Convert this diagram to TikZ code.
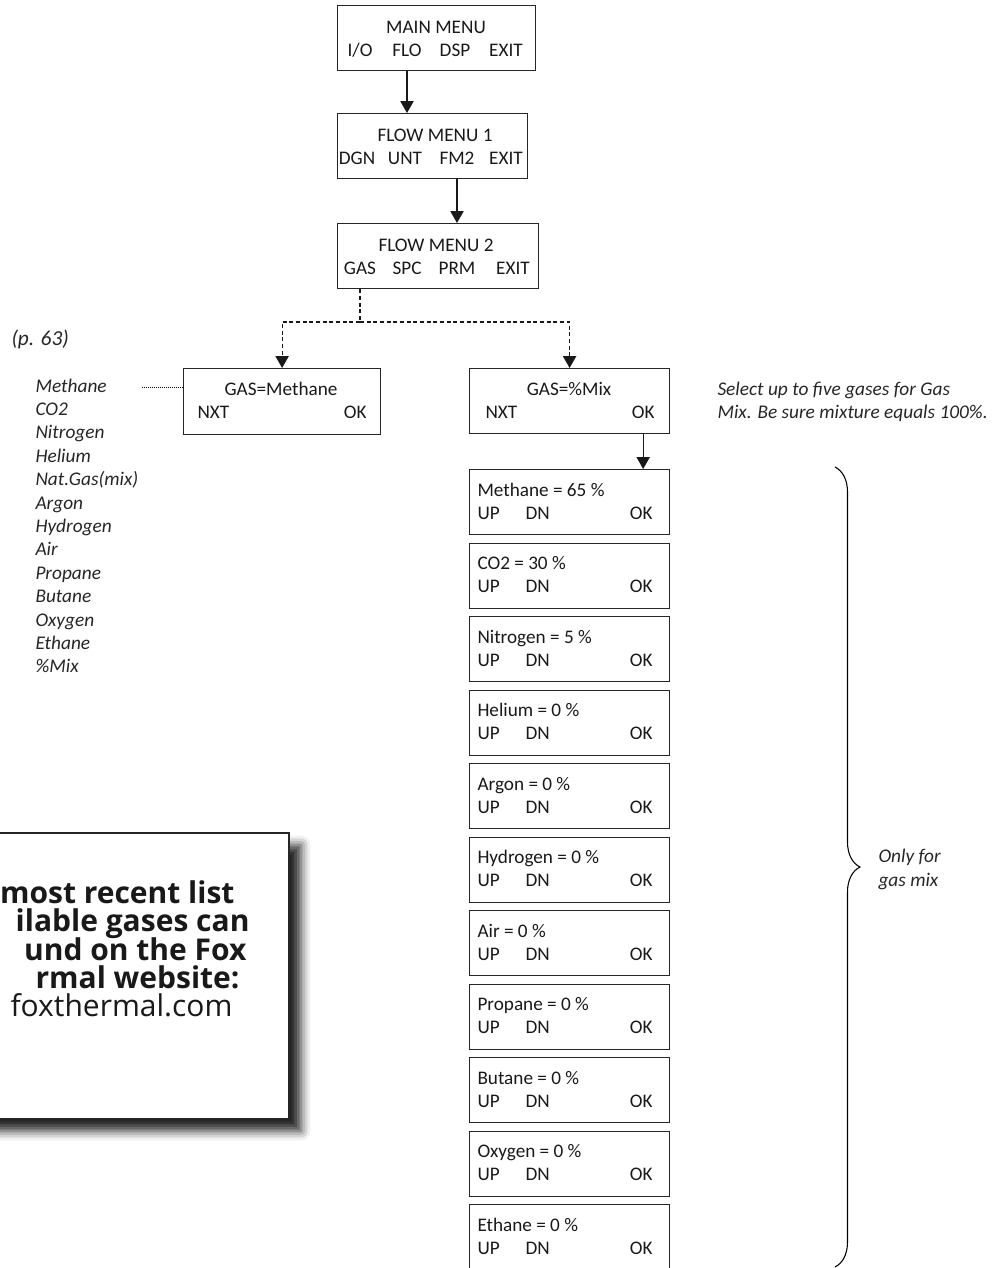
\documentclass[tikz,border=0pt]{standalone}
\usepackage{fontspec}
\setmainfont{Carlito}
\newfontfamily\infofont{Open Sans}
\usetikzlibrary{arrows.meta,decorations.pathreplacing,shadows.blur}

\tikzset{every picture/.style={line width=0.75pt}}
\tikzset{
  menubox/.style={draw=black!85, line width=0.9pt, inner sep=0pt, anchor=north west, minimum height=48.75pt},
  boxtxt/.style={font=\fontsize{14.4}{17}\selectfont, text=black!90, inner sep=0pt, anchor=base},
  notetxt/.style={font=\fontsize{14.5}{17}\selectfont\itshape, text=black!85, inner sep=0pt, anchor=base west},
  infotxt/.style={font=\infofont\fontsize{22.5}{27}\selectfont\bfseries, text=black!90, inner sep=0pt, anchor=base east},
  arr/.style={-{Triangle[width=10pt,length=9pt]}, line width=0.9pt, black!90},
  dashln/.style={line width=0.9pt, black!90, dash pattern=on 3pt off 2pt},
  dasharr/.style={arr, dash pattern=on 3pt off 2pt},
}

\begin{document}
\begin{tikzpicture}[x=0.75pt,y=0.75pt,yscale=-1,xscale=1]
	\useasboundingbox (0,0) rectangle (993,1268);

	%Shape: Rectangle (main menu)
	\node[menubox, minimum width=148.5pt] (mainmenu) at (337,5) {};
	\node[boxtxt] (mmtitle) at (436,33) {MAIN MENU};
	\node[boxtxt] (io) at (360,56) {I/O};
	\node[boxtxt] (flo) at (407,56) {FLO};
	\node[boxtxt] (dsp) at (455,56) {DSP};
	\node[boxtxt] (mmexit) at (506,56) {EXIT};

	%Shape: Rectangle (flow menu 1)
	\node[menubox, minimum width=142.5pt] (fmone) at (337,113) {};
	\node[boxtxt] (fmonetitle) at (435,141) {FLOW MENU 1};
	\node[boxtxt] (dgn) at (357,164) {DGN};
	\node[boxtxt] (unt) at (405,164) {UNT};
	\node[boxtxt] (fmtwokey) at (457,164) {FM2};
	\node[boxtxt] (fmoneexit) at (506,164) {EXIT};

	%Shape: Rectangle (flow menu 2)
	\node[menubox, minimum width=150.75pt] (fmtwo) at (337,223) {};
	\node[boxtxt] (fmtwotitle) at (436,251) {FLOW MENU 2};
	\node[boxtxt] (gas) at (360,274) {GAS};
	\node[boxtxt] (spc) at (407,274) {SPC};
	\node[boxtxt] (prm) at (457,274) {PRM};
	\node[boxtxt] (fmtwoexit) at (513,274) {EXIT};

	%Shape: Rectangle (gas select)
	\node[menubox, minimum width=147.75pt, minimum height=49.5pt] (gasmeth) at (183,368) {};
	\node[boxtxt] (methtitle) at (281,395) {GAS=Methane};
	\node[boxtxt, anchor=base west] (methnxt) at (197,418) {NXT};
	\node[boxtxt, anchor=base east] (methok) at (367,418) {OK};

	\node[menubox, minimum width=150pt] (gasmix) at (469,368) {};
	\node[boxtxt] (mixtitle) at (569,395) {GAS=\%Mix};
	\node[boxtxt, anchor=base west] (mixnxt) at (485,418) {NXT};
	\node[boxtxt, anchor=base east] (mixok) at (655,418) {OK};

	% Connectors
	\draw[arr] (flo |- mainmenu.south) -- (flo |- fmone.north);
	\draw[arr] (fmtwokey |- fmone.south) -- (fmtwokey |- fmtwo.north);
	\coordinate (split) at (360,322);
	\draw[dashln] (gas |- fmtwo.south) -- (split);
	\draw[dasharr] (split) -| (gasmeth.north);
	\draw[dasharr] (split) -| (gasmix.north);

	% Text Node
	\node[notetxt, font=\fontsize{16}{19}\selectfont\itshape] (pageref) at (11,345) {(p. 63)};
	\foreach \gasname [count=\i] in {Methane,CO2,Nitrogen,Helium,Nat.Gas(mix),Argon,Hydrogen,Air,Propane,Butane,Oxygen,Ethane,\%Mix}
		\node[notetxt] (opt\i) at (35,{392+23.4*(\i-1)}) {\gasname};
	\coordinate (lead) at (142,387);
	\draw[densely dotted, line width=0.5pt] (lead) -- (lead -| gasmeth.west);

	% Text Node
	\node[notetxt] (selnote) at (717,395) {Select up to five gases for Gas};
	\node[notetxt] (selnotetwo) at (717,418) {Mix. Be sure mixture equals 100\%.};

	% mix percentage boxes
	\foreach \gasname/\pct [count=\i from 0] in {Methane/65,CO2/30,Nitrogen/5,Helium/0,Argon/0,Hydrogen/0,Air/0,Propane/0,Butane/0,Oxygen/0,Ethane/0}{
		\pgfmathsetmacro\gtop{469+73.5*\i}
		\node[menubox, minimum width=150pt] (gas\i) at (469,\gtop) {};
		\node[boxtxt, anchor=base west] (gastxt\i) at (477,{\gtop+27}) {\gasname{} = \pct{} \%};
		\node[boxtxt, anchor=base west] (gasup\i) at (477,{\gtop+50}) {UP};
		\node[boxtxt, anchor=base west] (gasdn\i) at (525,{\gtop+50}) {DN};
		\node[boxtxt, anchor=base east] (gasok\i) at (653,{\gtop+50}) {OK};
	}
	\draw[arr] (mixok |- gasmix.south) -- (mixok |- gas0.north);

	%Brace
	\coordinate (bracetop) at (835,467);
	\coordinate (bracebot) at (835,1267);
	\draw[decorate, decoration={brace, amplitude=18.75pt}, line width=0.8pt] (bracetop) -- (bracebot);
	\node[notetxt] (onlyfor) at (878,862) {Only for};
	\node[notetxt] (gasmixnote) at (878,886) {gas mix};

	%Shape: Rectangle (info box)
	\node[draw=black!85, line width=1.5pt, fill=white, inner sep=0pt, anchor=north east,
		minimum width=300pt, minimum height=214.5pt,
		blur shadow={shadow xshift=9pt, shadow yshift=-9pt, shadow blur radius=7pt, shadow opacity=85}] (info) at (290,832) {};
	\node[infotxt] (infoa) at (235,903) {most recent list};
	\node[infotxt] (infob) at (250,931) {ilable gases can};
	\node[infotxt] (infoc) at (247,960) {und on the Fox};
	\node[infotxt] (infod) at (240,988) {rmal website:};
	\node[infotxt, font=\infofont\fontsize{22.5}{27}\selectfont] (infoe) at (233,1016) {foxthermal.com};

\end{tikzpicture}
\end{document}
